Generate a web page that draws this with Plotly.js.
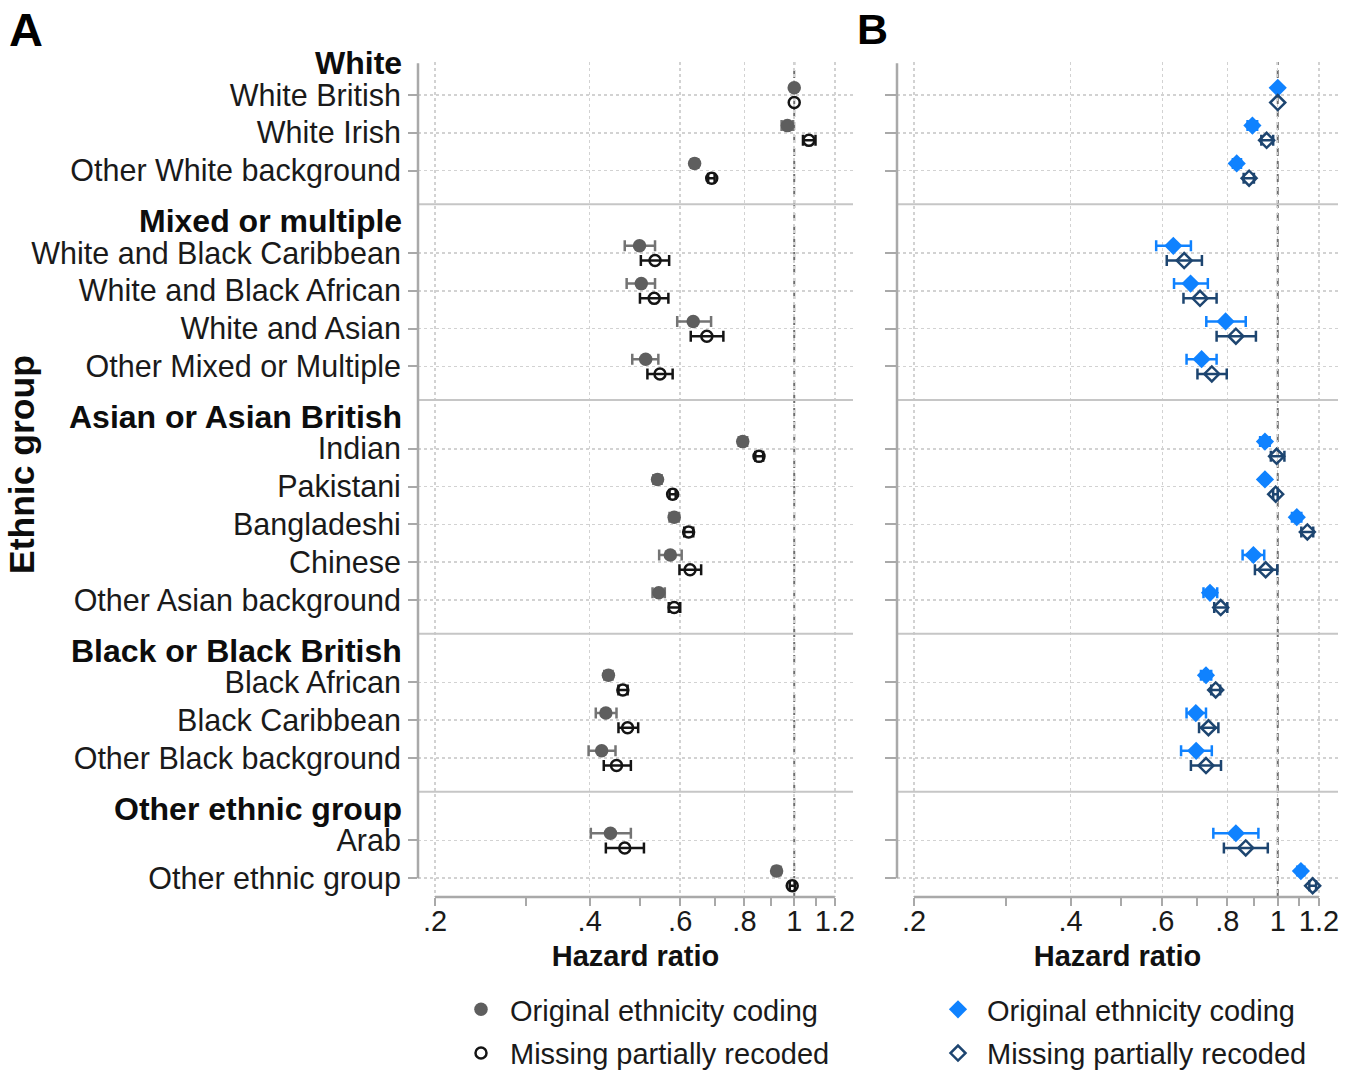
<!DOCTYPE html>
<html><head><meta charset="utf-8">
<script src="https://cdn.plot.ly/plotly-3.0.1.min.js"></script>
<style>html,body{margin:0;padding:0;background:#fff;overflow:hidden;} #chart{width:1355px;height:1072px;}</style>
</head><body><div id="chart"></div>
<script>
// ---------------- DATA ----------------
const groups = ['White', 'Mixed or multiple', 'Asian or Asian British', 'Black or Black British', 'Other ethnic group'];
const categories = ['White British', 'White Irish', 'Other White background',
  'White and Black Caribbean', 'White and Black African', 'White and Asian', 'Other Mixed or Multiple',
  'Indian', 'Pakistani', 'Bangladeshi', 'Chinese', 'Other Asian background',
  'Black African', 'Black Caribbean', 'Other Black background',
  'Arab', 'Other ethnic group'];
const categoryGroup = [0,0,0, 1,1,1,1, 2,2,2,2,2, 3,3,3, 4,4];

// Panel A - original ethnicity coding
const estA_orig = [1.00, 0.970, 0.640, 0.500, 0.504, 0.636, 0.514, 0.794, 0.542, 0.584, 0.574, 0.545, 0.435, 0.430, 0.422, 0.439, 0.924];
const loA_orig  = [null, 0.945, 0.630, 0.468, 0.472, 0.592, 0.484, 0.780, 0.532, 0.572, 0.546, 0.530, 0.427, 0.411, 0.398, 0.402, 0.910];
const hiA_orig  = [null, 0.995, 0.650, 0.536, 0.536, 0.689, 0.544, 0.810, 0.552, 0.596, 0.604, 0.560, 0.443, 0.451, 0.449, 0.481, 0.940];
// Panel A - missing partially recoded
const estA_rec = [1.00, 1.068, 0.691, 0.536, 0.534, 0.676, 0.548, 0.854, 0.580, 0.623, 0.627, 0.584, 0.464, 0.474, 0.451, 0.468, 0.991];
const loA_rec  = [null, 1.040, 0.680, 0.503, 0.501, 0.629, 0.518, 0.840, 0.572, 0.611, 0.598, 0.570, 0.455, 0.455, 0.426, 0.430, 0.980];
const hiA_rec  = [null, 1.100, 0.700, 0.571, 0.569, 0.728, 0.580, 0.870, 0.588, 0.636, 0.659, 0.600, 0.474, 0.497, 0.481, 0.510, 1.003];
// Panel B - original ethnicity coding
const estB_orig = [1.00, 0.894, 0.834, 0.630, 0.680, 0.794, 0.714, 0.945, 0.945, 1.088, 0.898, 0.741, 0.728, 0.696, 0.697, 0.831, 1.108];
const loB_orig  = [null, 0.875, 0.820, 0.584, 0.632, 0.729, 0.668, 0.925, 0.935, 1.065, 0.856, 0.720, 0.712, 0.668, 0.652, 0.752, 1.090];
const hiB_orig  = [null, 0.913, 0.850, 0.681, 0.734, 0.868, 0.763, 0.965, 0.955, 1.110, 0.942, 0.765, 0.745, 0.728, 0.747, 0.918, 1.125];
// Panel B - missing partially recoded
const estB_rec = [1.00, 0.952, 0.881, 0.661, 0.709, 0.831, 0.747, 0.995, 0.991, 1.140, 0.948, 0.777, 0.760, 0.736, 0.728, 0.868, 1.167];
const loB_rec  = [null, 0.930, 0.860, 0.612, 0.659, 0.763, 0.701, 0.970, 0.980, 1.110, 0.904, 0.755, 0.745, 0.706, 0.681, 0.788, 1.150];
const hiB_rec  = [null, 0.980, 0.900, 0.715, 0.763, 0.908, 0.798, 1.030, 1.000, 1.170, 0.998, 0.800, 0.775, 0.769, 0.778, 0.957, 1.185];

const xTickVals = [0.2, 0.4, 0.6, 0.8, 1, 1.2];
const xTickText = ['.2', '.4', '.6', '.8', '1', '1.2'];
const xMinorVals = [0.3, 0.5, 0.7, 0.9, 1.1];
const seriesNames = ['Original ethnicity coding', 'Missing partially recoded'];

// ---------------- LAYOUT HELPERS ----------------
const W = 1355, H = 1072;
const FONT = 'Liberation Sans, Arial, Helvetica, sans-serif';
const px = x => x / W;
const py = y => 1 - y / H;

const GAP = 2.18;
const ypos = [];
{ let p = 0;
  categories.forEach((c, i) => {
    if (i > 0) p += (categoryGroup[i] !== categoryGroup[i-1]) ? GAP : 1;
    ypos.push(p);
  });
}
const firstIdx = groups.map((g, gi) => categoryGroup.indexOf(gi));
const lastIdx = groups.map((g, gi) => categoryGroup.lastIndexOf(gi));
const headerPos = firstIdx.map(i => ypos[i] - 0.84);
const sepPos = lastIdx.slice(0, -1).map(i => ypos[i] + 0.89);

const OFF_TOP = -0.19, OFF_BOT = 0.20;
const yTop = -0.873, yBot = 21.217; // units at plot top / bottom
const errPlus = (est, hi) => est.map((e, i) => hi[i] == null ? NaN : hi[i] - e);
const errMinus = (est, lo) => est.map((e, i) => lo[i] == null ? NaN : e - lo[i]);

function mkTrace(est, lo, hi, off, xa, ya, name, legend, sym, size, color, lineW, errColor) {
  return {
    type: 'scatter', mode: 'markers', name: name, legend: legend, legendgroup: legend + name,
    x: est, y: ypos.map(v => v + off), xaxis: xa, yaxis: ya,
    marker: {symbol: sym, size: size, color: color, line: {color: color, width: lineW}},
    error_x: {type: 'data', symmetric: false, array: errPlus(est, hi), arrayminus: errMinus(est, lo),
              color: errColor, thickness: 2.5, width: 5.5},
    cliponaxis: false, hoverinfo: 'skip'
  };
}

const GRAY = '#5e5e5e', GRAY_ERR = '#747474', BLACK = '#141414', BLUE = '#0f82ff', NAVY = '#1d4570';

const traces = [
  mkTrace(estA_orig, loA_orig, hiA_orig, OFF_TOP, 'x', 'y', seriesNames[0], 'legend', 'circle', 13.5, GRAY, 0, GRAY_ERR),
  mkTrace(estA_rec, loA_rec, hiA_rec, OFF_BOT, 'x', 'y', seriesNames[1], 'legend', 'circle-open', 11, BLACK, 2.5, BLACK),
  mkTrace(estB_orig, loB_orig, hiB_orig, OFF_TOP, 'x2', 'y2', seriesNames[0], 'legend2', 'diamond', 14, BLUE, 0, BLUE),
  mkTrace(estB_rec, loB_rec, hiB_rec, OFF_BOT, 'x2', 'y2', seriesNames[1], 'legend2', 'diamond-open', 11.5, NAVY, 2.5, NAVY)
];

// panel geometry (pixels)
const A = {l: 418, r: 853, x02: 435, k: 223.2};
const B = {l: 897, r: 1338, x02: 914, k: 226.0};
const T = 62, Bt = 897;
function logRange(P) {
  const lnL = Math.log(0.2) - (P.x02 - P.l) / P.k;
  const lnR = lnL + (P.r - P.l) / P.k;
  return [lnL / Math.LN10, lnR / Math.LN10];
}

const GRID = '#d2d2d2', AXIS = '#a9a9a9';
function xAxis(P, anchor) {
  return {
    type: 'log', domain: [px(P.l), px(P.r)], range: logRange(P), anchor: anchor,
    tickmode: 'array', tickvals: xTickVals, ticktext: xTickText,
    ticks: 'outside', ticklen: 8, tickwidth: 2, tickcolor: AXIS,
    ticklabelstandoff: -10,
    minor: {tickmode: 'array', tickvals: xMinorVals, ticks: 'outside', ticklen: 8, tickwidth: 2, tickcolor: AXIS, showgrid: false},
    showgrid: true, gridcolor: GRID, griddash: 'dot', gridwidth: 1.5,
    showline: false, zeroline: false,
    tickfont: {family: FONT, size: 29, color: '#1a1a1a'},
    title: {text: 'Hazard ratio', font: {family: FONT, size: 29, color: '#111', weight: 'bold'}, standoff: 9},
    automargin: false
  };
}
function yAxis(P, anchor, labels) {
  return {
    domain: [py(Bt), py(T)], range: [yBot, yTop], anchor: anchor,
    tickmode: 'array', tickvals: ypos, ticktext: categories,
    showticklabels: labels, ticks: 'outside', ticklen: labels ? 9 : 11, tickwidth: 2, tickcolor: AXIS,
    ticklabelstandoff: 1,
    showgrid: true, gridcolor: GRID, griddash: 'dot', gridwidth: 1.5,
    showline: false, zeroline: false,
    tickfont: {family: FONT, size: 30.5, color: '#1a1a1a'},
    automargin: false
  };
}

const shapes = [];
[['x', 'y', A], ['x2', 'y2', B]].forEach(([xa, ya, P]) => {
  const xd = xa + ' domain';
  sepPos.forEach(s => shapes.push({type: 'line', xref: xd, yref: ya, x0: 0, x1: 1, y0: s, y1: s, line: {color: '#c6c6c6', width: 2}}));
  shapes.push({type: 'line', xref: xd, yref: ya, x0: 0, x1: 0, y0: yTop + 0.03, y1: ypos[ypos.length - 1], line: {color: AXIS, width: 2.5}});
  shapes.push({type: 'line', xref: xa, yref: 'paper', x0: 0.2, x1: 1.2, y0: py(Bt), y1: py(Bt), line: {color: AXIS, width: 2.5}});
  shapes.push({type: 'line', xref: xa, yref: 'paper', x0: 1, x1: 1, y0: py(Bt), y1: py(T), line: {color: '#6e6e6e', width: 2, dash: '8px,5px'}, layer: 'below'});
});

const annotations = [];
groups.forEach((g, gi) => annotations.push({
  text: g, xref: 'paper', yref: 'y', x: px(404), y: headerPos[gi], xanchor: 'right', yanchor: 'middle',
  showarrow: false, font: {family: FONT, size: 32, color: '#0d0d0d', weight: 'bold'}
}));
annotations.push({text: 'A', xref: 'paper', yref: 'paper', x: px(7), y: py(29), xanchor: 'left', yanchor: 'middle', showarrow: false,
  font: {family: FONT, size: 47, color: '#000', weight: 'bold'}});
annotations.push({text: 'B', xref: 'paper', yref: 'paper', x: px(855), y: py(29), xanchor: 'left', yanchor: 'middle', showarrow: false,
  font: {family: FONT, size: 43, color: '#000', weight: 'bold'}});
annotations.push({text: 'Ethnic group', xref: 'paper', yref: 'paper', x: px(22), y: py(465), xanchor: 'center', yanchor: 'middle',
  textangle: -90, showarrow: false, font: {family: FONT, size: 35.5, color: '#0d0d0d', weight: 'bold'}});

function legendCfg(xpx) {
  return {xref: 'container', yref: 'container', x: px(xpx), xanchor: 'left', y: py(984), yanchor: 'top', orientation: 'v',
    font: {family: FONT, size: 29, color: '#1a1a1a'}, itemwidth: 48, tracegroupgap: 3, traceorder: 'grouped',
    bgcolor: 'rgba(0,0,0,0)', borderwidth: 0};
}

const layout = {
  width: W, height: H, margin: {l: 0, r: 0, t: 0, b: 0, autoexpand: false},
  paper_bgcolor: '#fff', plot_bgcolor: '#fff',
  font: {family: FONT, color: '#1a1a1a'},
  xaxis: xAxis(A, 'y'), yaxis: yAxis(A, 'x', true),
  xaxis2: xAxis(B, 'y2'), yaxis2: yAxis(B, 'x2', false),
  showlegend: true, legend: legendCfg(452), legend2: legendCfg(929),
  shapes: shapes, annotations: annotations
};

Plotly.newPlot('chart', traces, layout, {staticPlot: true, displayModeBar: false});
</script></body></html>
